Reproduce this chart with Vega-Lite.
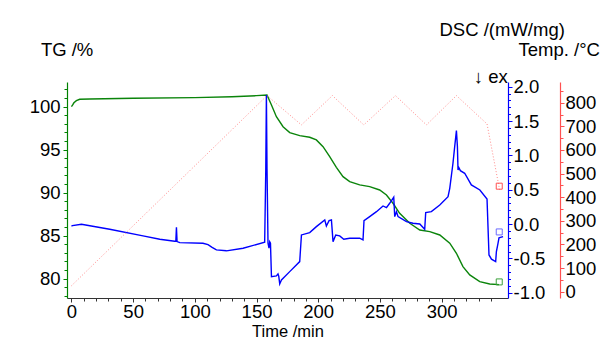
{
  "$schema": "https://vega.github.io/schema/vega-lite/v6.json",
  "autosize": {"type": "none"},
  "padding": {"left": 67, "top": 82, "right": 98, "bottom": 42},
  "width": 441,
  "height": 216,
  "background": "white",
  "config": {
    "view": {"stroke": null},
    "font": "Liberation Sans",
    "axis": {
      "grid": false,
      "labelFont": "Liberation Sans",
      "titleFont": "Liberation Sans",
      "labelFontSize": 18.5,
      "titleFontSize": 18.5,
      "titleFontWeight": "normal",
      "labelColor": "black",
      "titleColor": "black",
      "labelFlush": false,
      "labelOverlap": false
    }
  },
  "datasets": {
    "tg": [
      {"t": 0, "tg": 100.0}, {"t": 1, "tg": 100.2}, {"t": 2, "tg": 100.45}, {"t": 4, "tg": 100.7},
      {"t": 6.7, "tg": 100.86}, {"t": 15, "tg": 100.9}, {"t": 50, "tg": 100.98}, {"t": 100, "tg": 101.05},
      {"t": 130, "tg": 101.15}, {"t": 150, "tg": 101.28}, {"t": 158.5, "tg": 101.36}, {"t": 162.1, "tg": 100.2},
      {"t": 166.1, "tg": 98.84}, {"t": 171.5, "tg": 97.67}, {"t": 176.9, "tg": 96.98}, {"t": 185, "tg": 96.63},
      {"t": 193.1, "tg": 96.44}, {"t": 198.5, "tg": 96.13}, {"t": 203.9, "tg": 95.35}, {"t": 209.3, "tg": 94.19},
      {"t": 214.7, "tg": 92.95}, {"t": 220.1, "tg": 91.86}, {"t": 225.5, "tg": 91.28}, {"t": 233.6, "tg": 90.9},
      {"t": 241.7, "tg": 90.7}, {"t": 249.8, "tg": 90.31}, {"t": 255.3, "tg": 89.73}, {"t": 260.6, "tg": 88.77},
      {"t": 266, "tg": 87.6}, {"t": 274.2, "tg": 86.44}, {"t": 282.3, "tg": 85.66}, {"t": 290.4, "tg": 85.47},
      {"t": 298.5, "tg": 85.08}, {"t": 306.6, "tg": 84.12}, {"t": 312, "tg": 82.95}, {"t": 317.3, "tg": 81.4},
      {"t": 322.8, "tg": 80.43}, {"t": 330.9, "tg": 79.65}, {"t": 339, "tg": 79.38}, {"t": 346.5, "tg": 79.3}
    ],
    "dsc": [
      {"t": 0, "dsc": -0.03}, {"t": 0.8, "dsc": -0.023}, {"t": 8.1, "dsc": -0.003}, {"t": 31, "dsc": -0.076},
      {"t": 58, "dsc": -0.173}, {"t": 71.6, "dsc": -0.222}, {"t": 83.7, "dsc": -0.25}, {"t": 84.6, "dsc": -0.25},
      {"t": 85.1, "dsc": -0.047}, {"t": 85.6, "dsc": -0.255}, {"t": 87.8, "dsc": -0.27}, {"t": 106.6, "dsc": -0.28},
      {"t": 110.7, "dsc": -0.3}, {"t": 114, "dsc": -0.34}, {"t": 117.5, "dsc": -0.377}, {"t": 125.6, "dsc": -0.39},
      {"t": 139.1, "dsc": -0.352}, {"t": 156.6, "dsc": -0.265}, {"t": 157.5, "dsc": 0.8}, {"t": 158.0, "dsc": 1.879},
      {"t": 158.5, "dsc": 0.8}, {"t": 159.3, "dsc": -0.28}, {"t": 160.1, "dsc": -0.35}, {"t": 160.7, "dsc": -0.26},
      {"t": 161.3, "dsc": -0.28}, {"t": 162.1, "dsc": -0.766}, {"t": 166.1, "dsc": -0.756}, {"t": 167.4, "dsc": -0.726},
      {"t": 168.0, "dsc": -0.76}, {"t": 168.8, "dsc": -0.872}, {"t": 170.2, "dsc": -0.814}, {"t": 176.9, "dsc": -0.693},
      {"t": 185.0, "dsc": -0.547}, {"t": 186.4, "dsc": -0.159}, {"t": 193.1, "dsc": -0.125}, {"t": 198.5, "dsc": -0.038},
      {"t": 205.3, "dsc": 0.06}, {"t": 206.6, "dsc": -0.028}, {"t": 208.8, "dsc": 0.05}, {"t": 210.7, "dsc": 0.06},
      {"t": 212.0, "dsc": -0.256}, {"t": 214.2, "dsc": -0.159}, {"t": 217.4, "dsc": -0.173}, {"t": 220.7, "dsc": -0.222},
      {"t": 225.5, "dsc": -0.207}, {"t": 233.6, "dsc": -0.207}, {"t": 236.3, "dsc": -0.232}, {"t": 237.1, "dsc": 0.05},
      {"t": 241.7, "dsc": 0.108}, {"t": 247.2, "dsc": 0.18}, {"t": 252.5, "dsc": 0.263}, {"t": 255.3, "dsc": 0.239},
      {"t": 257.9, "dsc": 0.302}, {"t": 261.2, "dsc": 0.39}, {"t": 262.0, "dsc": 0.108}, {"t": 263.4, "dsc": 0.18},
      {"t": 264.7, "dsc": 0.108}, {"t": 271.5, "dsc": 0.035}, {"t": 276.8, "dsc": 0.012}, {"t": 282.3, "dsc": 0.0},
      {"t": 286.3, "dsc": -0.076}, {"t": 287.1, "dsc": 0.166}, {"t": 291.7, "dsc": 0.18}, {"t": 298.5, "dsc": 0.278},
      {"t": 305.2, "dsc": 0.399}, {"t": 306.6, "dsc": 0.52}, {"t": 309.2, "dsc": 0.885}, {"t": 310.6, "dsc": 1.127},
      {"t": 312.0, "dsc": 1.36}, {"t": 312.8, "dsc": 1.127}, {"t": 313.3, "dsc": 0.787}, {"t": 314.0, "dsc": 0.82},
      {"t": 315.2, "dsc": 0.777}, {"t": 318.7, "dsc": 0.739}, {"t": 324.1, "dsc": 0.569}, {"t": 331.0, "dsc": 0.496},
      {"t": 336.8, "dsc": 0.365}, {"t": 338.4, "dsc": -0.45}, {"t": 340.4, "dsc": -0.512}, {"t": 343.8, "dsc": -0.547},
      {"t": 344.4, "dsc": -0.4}, {"t": 345.7, "dsc": -0.28}, {"t": 346.5, "dsc": -0.2}, {"t": 349.8, "dsc": -0.183}
    ],
    "temp": [
      {"t": 0, "temp": 25}, {"t": 158.5, "temp": 830}, {"t": 186.4, "temp": 706}, {"t": 211.5, "temp": 830},
      {"t": 236.9, "temp": 706}, {"t": 262.6, "temp": 830}, {"t": 287.7, "temp": 706}, {"t": 312, "temp": 830},
      {"t": 336.8, "temp": 710}, {"t": 347, "temp": 431}
    ]
  },
  "encoding": {
    "x": {
      "field": "t",
      "type": "quantitative",
      "scale": {"domain": [-3.6, 353.8], "nice": false, "zero": false},
      "axis": {
        "title": "Time /min",
        "values": [0, 10, 20, 30, 40, 50, 60, 70, 80, 90, 100, 110, 120, 130, 140, 150, 160, 170, 180, 190, 200, 210, 220, 230, 240, 250, 260, 270, 280, 290, 300, 310, 320, 330, 340],
        "labelExpr": "datum.value % 50 === 0 ? datum.value + '' : ''",
        "domainColor": "#333333",
        "tickColor": "#333333",
        "tickSize": {"condition": {"test": "datum.value % 50 === 0", "value": 4}, "value": 3},
        "labelBaseline": "alphabetic",
        "labelPadding": 15.5,
        "titleBaseline": "alphabetic",
        "titleFontSize": 16.5,
        "titleY": 38.5
      }
    }
  },
  "layer": [
    {
      "encoding": {
        "y": {
          "field": "tg",
          "type": "quantitative",
          "scale": {"domain": [77.75, 102.87], "nice": false, "zero": false},
          "axis": {
            "orient": "left",
            "title": "TG /%",
            "values": [78, 79, 80, 81, 82, 83, 84, 85, 86, 87, 88, 89, 90, 91, 92, 93, 94, 95, 96, 97, 98, 99, 100, 101, 102],
            "labelExpr": "datum.value % 5 === 0 ? datum.value + '' : ''",
            "domainColor": "#008000",
            "domainWidth": 1.2,
            "tickColor": "#008000",
            "tickSize": {"condition": {"test": "datum.value % 5 === 0", "value": 4}, "value": 3},
            "labelPadding": 3,
            "titleAngle": 0,
            "titleAlign": "left",
            "titleBaseline": "alphabetic",
            "titleX": -26.6,
            "titleY": -26.3
          }
        }
      },
      "layer": [
        {"data": {"name": "tg"}, "mark": {"type": "line", "color": "#0a840a", "strokeWidth": 1.4}},
        {"data": {"values": [{"t": 346.7, "tg": 79.62}]}, "mark": {"type": "point", "shape": "square", "filled": false, "size": 36, "color": "#3aa03a", "strokeWidth": 1, "opacity": 1}}
      ]
    },
    {
      "encoding": {
        "y": {
          "field": "dsc",
          "type": "quantitative",
          "scale": {"domain": [-1.077, 2.068], "nice": false, "zero": false},
          "axis": {
            "orient": "right",
            "title": "DSC /(mW/mg)",
            "values": [-1, -0.9, -0.8, -0.7, -0.6, -0.5, -0.4, -0.3, -0.2, -0.1, 0, 0.1, 0.2, 0.3, 0.4, 0.5, 0.6, 0.7, 0.8, 0.9, 1, 1.1, 1.2, 1.3, 1.4, 1.5, 1.6, 1.7, 1.8, 1.9, 2],
            "labelExpr": "abs(datum.value*2 - round(datum.value*2)) < 0.001 ? (datum.value < -0.001 ? '-' : '') + format(abs(datum.value), '.1f') : ''",
            "domainColor": "#0000ff",
            "domainWidth": 1.2,
            "tickColor": "#0000ff",
            "tickSize": {"condition": {"test": "abs(datum.value*2 - round(datum.value*2)) < 0.001", "value": 4}, "value": 2.5},
            "labelPadding": 1,
            "titleAngle": 0,
            "titleAlign": "left",
            "titleBaseline": "alphabetic",
            "titleX": -69,
            "titleY": -47
          }
        }
      },
      "layer": [
        {"data": {"name": "dsc"}, "mark": {"type": "line", "color": "#0000ff", "strokeWidth": 1.4}},
        {"data": {"values": [{"t": 346.7, "dsc": -0.115}]}, "mark": {"type": "point", "shape": "square", "filled": false, "size": 36, "color": "#6a6aff", "strokeWidth": 1, "opacity": 1}},
        {"data": {"values": [{"t": 353.6, "dsc": 2.05, "label": "↓ ex"}]}, "mark": {"type": "text", "align": "right", "baseline": "alphabetic", "fontSize": 18.5, "font": "Liberation Sans", "color": "black"}, "encoding": {"text": {"field": "label"}}}
      ]
    },
    {
      "encoding": {
        "y": {
          "field": "temp",
          "type": "quantitative",
          "scale": {"domain": [-26.7, 887.6], "nice": false, "zero": false},
          "axis": {
            "orient": "right",
            "offset": 52,
            "title": "Temp. /°C",
            "values": [0, 50, 100, 150, 200, 250, 300, 350, 400, 450, 500, 550, 600, 650, 700, 750, 800, 850],
            "labelExpr": "datum.value % 100 === 0 ? datum.value + '' : ''",
            "domainColor": "#ff5050",
            "domainWidth": 1.2,
            "tickColor": "#ff5050",
            "tickSize": {"condition": {"test": "datum.value % 100 === 0", "value": 4}, "value": 3},
            "labelPadding": 1,
            "titleAngle": 0,
            "titleAlign": "left",
            "titleBaseline": "alphabetic",
            "titleX": -42,
            "titleY": -27
          }
        }
      },
      "layer": [
        {"data": {"name": "temp"}, "mark": {"type": "line", "color": "#ff8a8a", "strokeWidth": 1, "strokeDash": [1, 2]}},
        {"data": {"values": [{"t": 346.7, "temp": 446.6}]}, "mark": {"type": "point", "shape": "square", "filled": false, "size": 36, "color": "#ff5050", "strokeWidth": 1, "opacity": 1}}
      ]
    }
  ],
  "resolve": {"scale": {"y": "independent"}}
}
